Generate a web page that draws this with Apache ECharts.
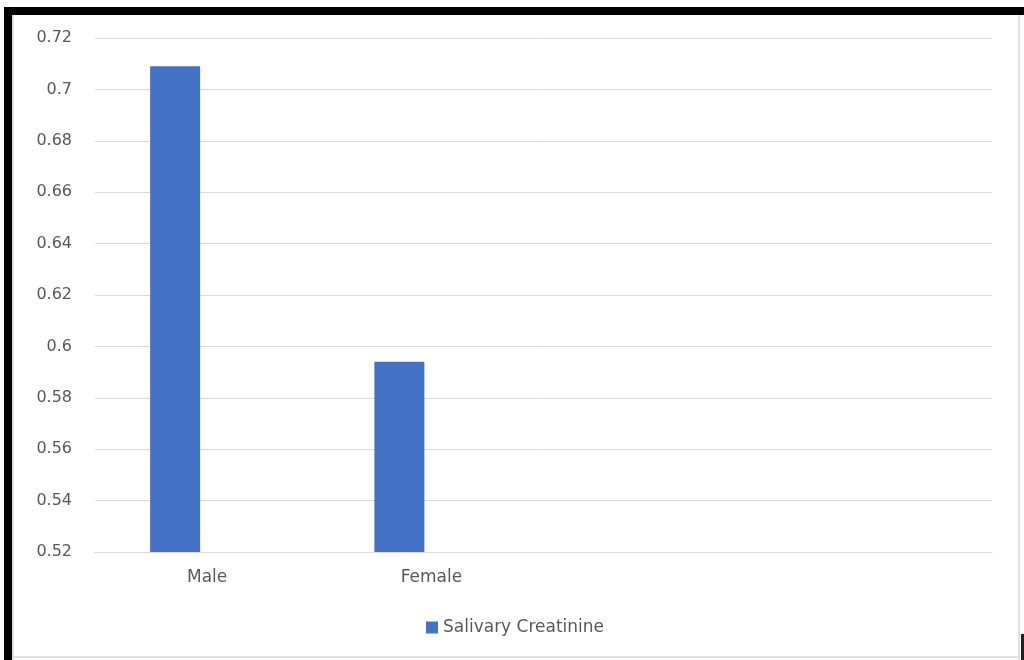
<!DOCTYPE html>
<html>
<head>
<meta charset="utf-8">
<style>
html,body{margin:0;padding:0;background:#fff;}
#chart{width:1024px;height:660px;}
</style>
<script src="https://cdn.jsdelivr.net/npm/echarts@6/dist/echarts.min.js"></script>
</head>
<body>
<div id="chart"></div>
<script>
var categories = ['Male', 'Female', '', ''];
var salivaryCreatinine = [0.709, 0.594, null, null];
var yMin = 0.52, yMax = 0.72, yStep = 0.02;
var seriesName = 'Salivary Creatinine';

var chart = echarts.init(document.getElementById('chart'));
var font = 'DejaVu Sans';
var txt = '#595959';
chart.setOption({
  animation: false,
  backgroundColor: '#fff',
  graphic: [
    {type: 'rect', shape: {x: 4, y: 7, width: 1020, height: 8}, style: {fill: '#000'}},
    {type: 'rect', shape: {x: 4, y: 7, width: 8, height: 653}, style: {fill: '#000'}},
    {type: 'rect', shape: {x: 12, y: 15, width: 2, height: 645}, style: {fill: '#e0e0e0'}},
    {type: 'rect', shape: {x: 1018, y: 15, width: 2, height: 645}, style: {fill: '#e0e0e0'}},
    {type: 'rect', shape: {x: 12, y: 656, width: 1008, height: 2}, style: {fill: '#e0e0e0'}},
    {type: 'rect', shape: {x: 1021, y: 634, width: 3, height: 26}, style: {fill: '#222'}}
  ],
  grid: {left: 95, right: 32, top: 38, bottom: 108, containLabel: false},
  legend: {
    data: [seriesName],
    left: 421, top: 614,
    icon: 'rect', itemWidth: 12, itemHeight: 12, itemGap: 8,
    textStyle: {fontFamily: font, fontSize: 17, color: txt}
  },
  xAxis: {
    type: 'category',
    data: categories,
    axisLine: {lineStyle: {color: '#d9d9d9', width: 1}},
    axisTick: {show: false},
    axisLabel: {fontFamily: font, fontSize: 17, color: txt, margin: 17}
  },
  yAxis: {
    type: 'value',
    min: yMin, max: yMax, interval: yStep,
    axisLine: {show: false},
    axisTick: {show: false},
    splitLine: {lineStyle: {color: '#d9d9d9', width: 1}},
    axisLabel: {fontFamily: font, fontSize: 16, color: txt, margin: 23}
  },
  series: [
    {name: seriesName, type: 'bar', data: salivaryCreatinine, barWidth: 50, barGap: '28%',
     itemStyle: {color: '#4472c4'}},
    {name: 'blank', type: 'bar', data: [null, null, null, null], barWidth: 50, barGap: '28%',
     itemStyle: {color: 'transparent'}}
  ]
});
</script>
</body>
</html>
